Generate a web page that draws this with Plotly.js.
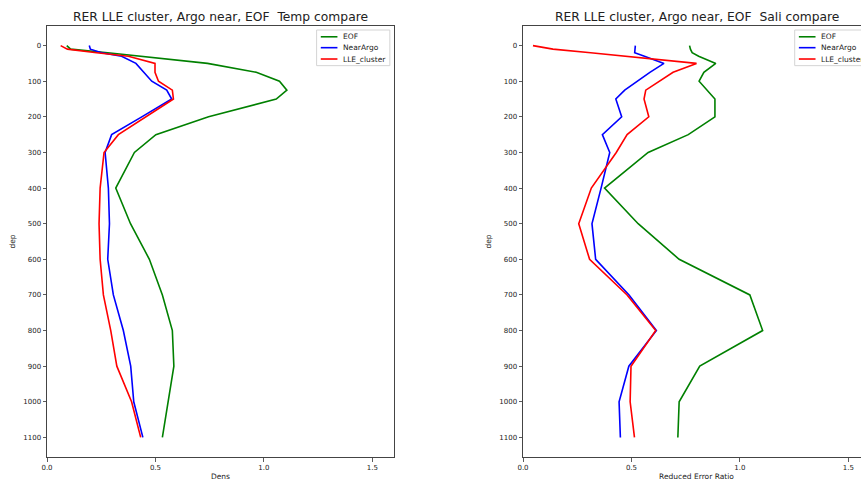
<!DOCTYPE html>
<html>
<head>
<meta charset="utf-8">
<script src="https://cdn.plot.ly/plotly-3.0.1.min.js"></script>
<style>
html, body { margin:0; padding:0; overflow:hidden; width:861px; height:481px; background:#fff; }
#chart { width:900px; height:481px; }
</style>
</head>
<body>
<div id="chart"></div>
<script>
// ---- data ----
const depth = [0, 10, 20, 30, 50, 75, 100, 125, 150, 200, 250, 300, 400, 500, 600, 700, 800, 900, 1000, 1100];
const seriesNames = ['EOF', 'NearArgo', 'LLE_cluster'];

const tempEOF      = [0.091, 0.109, 0.28, 0.44, 0.74, 0.965, 1.072, 1.106, 1.057, 0.745, 0.502, 0.403, 0.317, 0.385, 0.472, 0.532, 0.578, 0.585, 0.56, 0.532];
const tempNearArgo = [0.195, 0.20, 0.252, 0.344, 0.41, 0.445, 0.483, 0.552, 0.575, 0.437, 0.298, 0.268, 0.283, 0.288, 0.28, 0.306, 0.352, 0.386, 0.40, 0.442];
const tempLLE      = [0.063, 0.094, 0.229, 0.375, 0.498, 0.498, 0.514, 0.578, 0.583, 0.455, 0.329, 0.263, 0.245, 0.24, 0.245, 0.26, 0.294, 0.322, 0.39, 0.432];

const saliEOF      = [0.768, 0.772, 0.78, 0.81, 0.889, 0.834, 0.812, 0.85, 0.885, 0.885, 0.762, 0.577, 0.376, 0.531, 0.72, 1.046, 1.105, 0.815, 0.72, 0.714];
const saliNearArgo = [0.518, 0.515, 0.515, 0.56, 0.65, 0.585, 0.525, 0.469, 0.428, 0.455, 0.366, 0.40, 0.36, 0.318, 0.335, 0.489, 0.615, 0.488, 0.443, 0.449];
const saliLLE      = [0.046, 0.138, 0.312, 0.478, 0.80, 0.692, 0.63, 0.566, 0.558, 0.58, 0.48, 0.43, 0.315, 0.257, 0.307, 0.48, 0.612, 0.498, 0.494, 0.514];

const xTickVals = [0, 0.5, 1.0, 1.5];
const yTickVals = [0, 100, 200, 300, 400, 500, 600, 700, 800, 900, 1000, 1100];
const titles = ['RER LLE cluster, Argo near, EOF \u00a0Temp compare', 'RER LLE cluster, Argo near, EOF \u00a0Sali compare'];
const xTitles = ['Dens', 'Reduced Error Ratio'];
const yTitle = 'dep';

// ---- drawing ----
const colors = ['#008000', '#0000ff', '#ff0000'];
const panels = [
  {xa: 'x', ya: 'y', series: [tempEOF, tempNearArgo, tempLLE], legX: 0.777},
  {xa: 'x2', ya: 'y2', series: [saliEOF, saliNearArgo, saliLLE], legX: 0.783}
];

const traces = [];
const shapes = [];
const annotations = [];
panels.forEach((p, pi) => {
  p.series.forEach((vals, si) => {
    traces.push({
      type: 'scatter', mode: 'lines', x: vals, y: depth,
      xaxis: p.xa, yaxis: p.ya, name: seriesNames[si],
      line: {color: colors[si], width: 1.6}, showlegend: false, hoverinfo: 'skip'
    });
  });
  const xd = p.xa + ' domain', yd = p.ya + ' domain';
  // subplot title
  annotations.push({xref: xd, yref: yd, x: 0.5, y: 1, yanchor: 'middle', xanchor: 'center', yshift: 9,
    text: titles[pi], showarrow: false, font: {size: 12.3, color: '#222'}});
  // legend box
  const L = p.legX;
  shapes.push({type: 'rect', xref: xd, yref: yd, x0: L, x1: L + 0.211, y0: 0.908, y1: 0.9907,
    line: {color: '#d4d4d4', width: 1}, fillcolor: 'rgba(255,255,255,0.85)', layer: 'above'});
  const rows = [0.975, 0.9497, 0.9234];
  seriesNames.forEach((nm, si) => {
    shapes.push({type: 'line', xref: xd, yref: yd, x0: L + 0.012, x1: L + 0.06, y0: rows[si], y1: rows[si],
      line: {color: colors[si], width: 1.6}, layer: 'above'});
    annotations.push({xref: xd, yref: yd, x: L + 0.074, y: rows[si], xanchor: 'left', yanchor: 'middle',
      text: nm, showarrow: false, font: {size: 7.5, color: '#222'}, borderpad: 0});
  });
});

function xAxis(domain, anchor, title) {
  return {
    domain: domain, anchor: anchor, range: [0, 1.6], tickmode: 'array', tickvals: xTickVals, tickformat: '.1f',
    ticks: 'outside', ticklen: 3.5, tickwidth: 0.8, tickcolor: '#333',
    showline: true, mirror: true, linecolor: '#444', linewidth: 1,
    showgrid: false, zeroline: false, tickfont: {size: 7, color: '#222'},
    title: {text: title, font: {size: 7.5, color: '#222'}, standoff: 4}
  };
}
function yAxis(anchor) {
  return {
    anchor: anchor, range: [1155, -55], tickmode: 'array', tickvals: yTickVals,
    ticks: 'outside', ticklen: 3.5, tickwidth: 0.8, tickcolor: '#333',
    showline: true, mirror: true, linecolor: '#444', linewidth: 1,
    showgrid: false, zeroline: false, tickfont: {size: 7, color: '#222'},
    title: {text: yTitle, font: {size: 7.5, color: '#222'}, standoff: 6}
  };
}

const layout = {
  width: 900, height: 481,
  margin: {l: 47, r: 30, t: 26, b: 24},
  paper_bgcolor: '#fff', plot_bgcolor: '#fff',
  font: {family: 'DejaVu Sans', color: '#222'},
  showlegend: false,
  xaxis: xAxis([0, 347 / 823], 'y', xTitles[0]),
  yaxis: yAxis('x'),
  xaxis2: xAxis([476 / 823, 1], 'y2', xTitles[1]),
  yaxis2: yAxis('x2'),
  shapes: shapes,
  annotations: annotations
};

Plotly.newPlot('chart', traces, layout, {displayModeBar: false, staticPlot: true});
</script>
</body>
</html>
